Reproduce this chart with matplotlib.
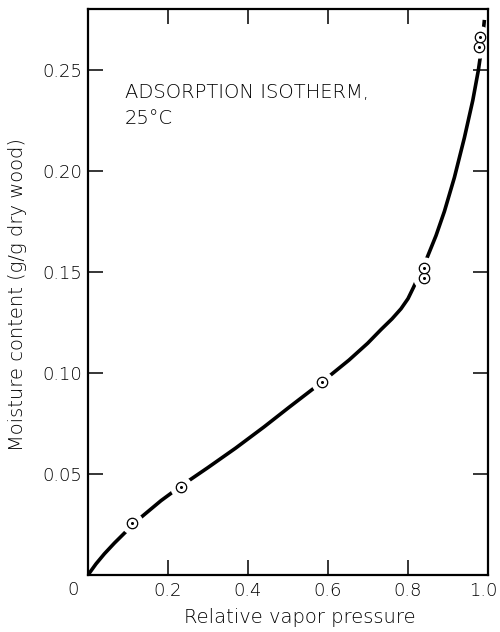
import numpy as np
import matplotlib
matplotlib.use("Agg")
import matplotlib.pyplot as plt
import matplotlib.transforms as mtransforms

# measured points (relative vapor pressure, moisture content)
pts_x = [0.111, 0.232, 0.586, 0.839, 0.839, 0.977, 0.981]
pts_y = [0.0256, 0.0437, 0.0957, 0.1469, 0.1518, 0.2615, 0.2665]

# hand drawn isotherm curve
curve_x = [0.0, 0.02, 0.041, 0.066, 0.095, 0.128, 0.1825, 0.232, 0.30, 0.369,
           0.44, 0.5025, 0.586, 0.6525, 0.699, 0.7325, 0.76, 0.7825, 0.80, 0.814,
           0.83, 0.8475, 0.87, 0.891, 0.916, 0.941, 0.962, 0.976, 0.984, 0.991]
curve_y = [0.0, 0.0055, 0.0105, 0.0158, 0.0215, 0.0278, 0.0368, 0.0440, 0.0532, 0.0628,
           0.0733, 0.0830, 0.0957, 0.1064, 0.1147, 0.1215, 0.1268, 0.1318, 0.1368, 0.1425,
           0.1495, 0.1570, 0.1680, 0.1800, 0.1968, 0.2165, 0.2350, 0.2500, 0.2610, 0.2748]

xticks = [0.2, 0.4, 0.6, 0.8, 1.0]
xticklabels = ["0.2", "0.4", "0.6", "0.8", "1.0"]
yticks = [0.05, 0.10, 0.15, 0.20, 0.25]
yticklabels = ["0.05", "0.10", "0.15", "0.20", "0.25"]

plt.rcParams['font.family'] = ['DejaVu Sans']
plt.rcParams['font.weight'] = 'light'
plt.rcParams['axes.labelweight'] = 'light'

fig = plt.figure(figsize=(5, 6.32), dpi=100)
ax = fig.add_axes([0.176, 0.0902, 0.8, 0.8949])

ax.plot(curve_x, curve_y, color='black', lw=2.6, solid_capstyle='butt',
        solid_joinstyle='round', zorder=2)
# white halo so the curve breaks around each point
ax.plot(pts_x, pts_y, 'o', ms=16, mfc='white', mec='none', zorder=2.2)
ax.plot(pts_x, pts_y, 'o', ms=7.5, mfc='white', mec='black', mew=0.9, zorder=2.3)
ax.plot(pts_x, pts_y, 'o', ms=2.2, color='black', mew=0, zorder=2.4)

ax.set_xlim(0, 1.0)
ax.set_ylim(0, 0.28)
ax.set_xticks(xticks)
ax.set_xticklabels(xticklabels)
ax.set_yticks(yticks)
ax.set_yticklabels(yticklabels)
ax.tick_params(direction='in', top=True, right=True, length=11, width=1.1,
               labelsize=13, color='black')
ax.tick_params(axis='x', pad=5)
ax.tick_params(axis='y', pad=4)
for s in ax.spines.values():
    s.set_linewidth(1.6)

# keep "1.0" inside the figure edge
last = ax.get_xticklabels()[-1]
last.set_transform(last.get_transform() +
                   mtransforms.ScaledTranslation(-5 / 100, 0, fig.dpi_scale_trans))

ax.text(-0.037, -0.027, "0", transform=ax.transAxes, ha='center', va='center', fontsize=13)

ax.set_xlabel("Relative vapor pressure", fontsize=14)
ax.xaxis.set_label_coords(0.529, -0.076)
ax.xaxis.label.set_va('center')
ax.set_ylabel("Moisture content (g/g dry wood)", fontsize=14)
ax.yaxis.set_label_coords(-0.177, 0.496)
ax.yaxis.label.set_va('center')

ax.text(0.0925, 0.2436, "ADSORPTION ISOTHERM,\n25°C", ha='left', va='top',
        fontsize=14, linespacing=1.5)

fig.savefig("out.png", dpi=100, facecolor='white')
